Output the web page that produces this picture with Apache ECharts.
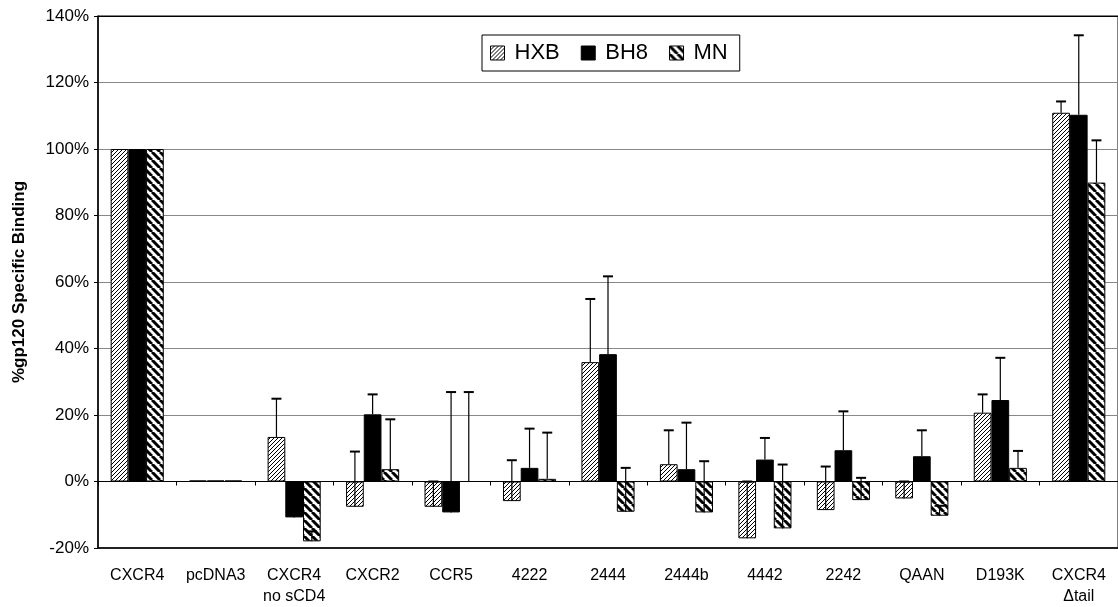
<!DOCTYPE html>
<html>
<head>
<meta charset="utf-8">
<script src="https://cdn.jsdelivr.net/npm/echarts@6/dist/echarts.min.js"></script>
<style>
html,body{margin:0;padding:0;background:#fff;}
#chart{width:1118px;height:607px;}
</style>
</head>
<body>
<div id="chart"></div>
<script>
var categories = ['CXCR4','pcDNA3','CXCR4\nno sCD4','CXCR2','CCR5','4222','2444','2444b','4442','2242','QAAN','D193K','CXCR4\n\u0394tail'];
var seriesNames = ['HXB','BH8','MN'];
var hxb    = [100, 0.3, 13.4, -7.6, -7.6, -5.9, 35.9, 5.2, -17.1, -8.6, -5.1, 20.7, 110.9];
var hxbErr = [0, 0, 11.5, 16.6, 7.6, 12.3, 19.0, 10.2, 17.1, 13.1, 5.1, 5.5, 3.4];
var bh8    = [100, 0.3, -10.8, 20.2, -9.3, 4.1, 38.3, 3.7, 6.6, 9.4, 7.6, 24.5, 110.3];
var bh8Err = [0, 0, 3.0, 6.0, 36.2, 11.8, 23.4, 14.0, 6.5, 11.7, 7.8, 12.7, 23.9];
var mn     = [100, 0.3, -18.0, 3.7, 0, 0.8, -9.1, -9.3, -14.1, -5.6, -10.3, 4.1, 89.9];
var mnErr  = [0, 0, 3.0, 15.0, 26.9, 13.9, 13.2, 15.4, 19.2, 6.7, 3.0, 5.1, 12.7];
var yTicks = {min: -20, max: 140, interval: 20};

function makePattern(size, lw, dir) {
  var c = document.createElement('canvas');
  c.width = size; c.height = size;
  var ctx = c.getContext('2d');
  ctx.fillStyle = '#fff';
  ctx.fillRect(0, 0, size, size);
  ctx.strokeStyle = '#000';
  ctx.lineWidth = lw;
  ctx.beginPath();
  for (var k = -1; k <= 1; k++) {
    if (dir === '/') {
      ctx.moveTo(k * size, size); ctx.lineTo(k * size + size, 0);
    } else {
      ctx.moveTo(k * size, 0); ctx.lineTo(k * size + size, size);
    }
  }
  ctx.stroke();
  return {image: c, repeat: 'repeat'};
}

var hxbFill = makePattern(4, 1, '/');
var mnFill = makePattern(8, 3, '\\');
var fills = [hxbFill, '#000', mnFill];
var vals = [hxb, bh8, mn];
var errs = [hxbErr, bh8Err, mnErr];
var BW = 17.7;
var FONT = '"Liberation Sans", Arial, sans-serif';

var series = [];
for (var s = 0; s < 3; s++) {
  series.push({
    name: seriesNames[s],
    type: 'bar',
    barWidth: BW,
    barGap: '0%',
    data: vals[s],
    itemStyle: {color: fills[s], borderColor: '#000', borderWidth: 1},
    emphasis: {disabled: true},
    z: 3
  });
}
for (var s2 = 0; s2 < 3; s2++) {
  (function (si) {
    series.push({
      type: 'custom',
      name: seriesNames[si] + ' err',
      data: vals[si].map(function (v, i) { return [i, v, errs[si][i]]; }),
      z: 5,
      silent: true,
      renderItem: function (params, api) {
        var i = api.value(0), v = api.value(1), e = api.value(2);
        if (!(e > 0)) return null;
        var p0 = api.coord([i, v]);
        var p1 = api.coord([i, v + e]);
        var x = p0[0] + (si - 1) * BW;
        return {
          type: 'group',
          children: [
            {type: 'line', shape: {x1: x, y1: p0[1], x2: x, y2: p1[1]}, style: {stroke: '#000', lineWidth: 1.2}},
            {type: 'line', shape: {x1: x - 5, y1: p1[1], x2: x + 5, y2: p1[1]}, style: {stroke: '#000', lineWidth: 2}}
          ]
        };
      }
    });
  })(s2);
}

var splitColors = [];
for (var t = yTicks.min; t <= yTicks.max; t += yTicks.interval) {
  splitColors.push(t === yTicks.max ? '#000' : '#888');
}

var chart = echarts.init(document.getElementById('chart'), null, {renderer: 'canvas'});
chart.setOption({
  animation: false,
  backgroundColor: '#fff',
  textStyle: {fontFamily: FONT},
  grid: {left: 98, right: -2, top: 16, bottom: 58, show: true, borderColor: '#000', borderWidth: 1, backgroundColor: 'transparent'},
  legend: {
    data: seriesNames.map(function (n) { return {name: n, icon: 'rect'}; }),
    left: 482, top: 35,
    orient: 'horizontal',
    itemWidth: 14, itemHeight: 14,
    itemGap: 21,
    padding: [7, 12, 7, 8],
    borderColor: '#000', borderWidth: 1,
    backgroundColor: '#fff',
    textStyle: {fontSize: 22, color: '#000', fontFamily: FONT, padding: [0, 0, 0, 5]},
    itemStyle: {borderColor: '#000', borderWidth: 1},
    selectedMode: false
  },
  xAxis: [{
    type: 'category',
    data: categories,
    position: 'bottom',
    axisLine: {onZero: false, show: true, lineStyle: {color: '#000', width: 1.5}},
    axisTick: {show: false},
    axisLabel: {color: '#000', fontSize: 16, lineHeight: 21, margin: 17, interval: 0, fontFamily: FONT}
  }, {
    type: 'category',
    data: categories,
    position: 'bottom',
    axisLine: {onZero: true, show: true, lineStyle: {color: '#000', width: 1}},
    axisTick: {show: true, length: 4, lineStyle: {color: '#000'}},
    axisLabel: {show: false}
  }],
  yAxis: {
    type: 'value',
    min: yTicks.min, max: yTicks.max, interval: yTicks.interval,
    name: '%gp120 Specific Binding',
    nameLocation: 'middle',
    nameRotate: 90,
    nameGap: 70,
    nameTextStyle: {fontSize: 17, fontWeight: 'bold', color: '#000', fontFamily: FONT},
    axisLine: {show: true, lineStyle: {color: '#000', width: 1.5}},
    axisTick: {show: true, length: 4, lineStyle: {color: '#000'}},
    axisLabel: {color: '#000', fontSize: 17, margin: 9, formatter: '{value}%', fontFamily: FONT},
    splitLine: {show: true, lineStyle: {color: splitColors, width: 1}}
  },
  series: series
});
</script>
</body>
</html>
